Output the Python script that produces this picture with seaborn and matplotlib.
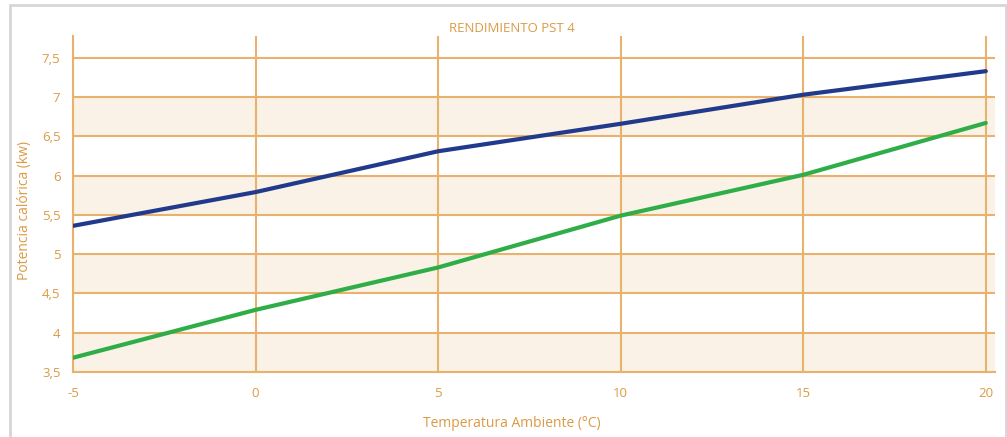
import matplotlib
matplotlib.use("Agg")
import matplotlib.pyplot as plt
from matplotlib.patches import Rectangle
import seaborn as sns
import pandas as pd

# Performance data for the PST 4 unit
temperatura = [-5, 0, 5, 10, 15, 20]
potencia_a = [5.36, 5.79, 6.31, 6.66, 7.03, 7.33]
potencia_b = [3.68, 4.29, 4.83, 5.49, 6.01, 6.67]
x_ticks = [-5, 0, 5, 10, 15, 20]
y_ticks = [3.5, 4, 4.5, 5, 5.5, 6, 6.5, 7, 7.5]
y_tick_labels = ["3,5", "4", "4,5", "5", "5,5", "6", "6,5", "7", "7,5"]

df = pd.DataFrame({
    "temp": temperatura * 2,
    "pot": potencia_a + potencia_b,
    "serie": ["A"] * len(temperatura) + ["B"] * len(temperatura),
})

sns.set_theme(style="white")
plt.rcParams["font.family"] = ["Open Sans", "DejaVu Sans"]

orange = "#E8B26C"
text_col = "#DB9A45"
band_col = "#FAF2E7"

fig = plt.figure(figsize=(10.07, 4.37), dpi=100)
ax = fig.add_axes([0.0725, 0.149, 0.9155, 0.769])

# outer light frame
fig.patches.append(Rectangle((0.010, -0.01), 0.989, 0.998, transform=fig.transFigure,
                             fill=False, edgecolor="#D6D6D6", linewidth=2.0))

# alternating horizontal bands
for lo in [3.5, 4.5, 5.5, 6.5]:
    ax.axhspan(lo, lo + 0.5, color=band_col, zorder=0, linewidth=0)

sns.lineplot(data=df, x="temp", y="pot", hue="serie",
             palette={"A": "#213A8C", "B": "#2FAE48"},
             linewidth=3, legend=False, ax=ax, zorder=3)

ax.set_xlim(-5, 20.25)
ax.set_ylim(3.5, 7.78)
ax.set_xticks(x_ticks)
ax.set_xticklabels(["-5", "0", "5", "10", "15", "20"])
ax.set_yticks(y_ticks)
ax.set_yticklabels(y_tick_labels)

ax.grid(True, color=orange, linewidth=1.5, zorder=1)
ax.set_axisbelow(True)
for s in ax.spines.values():
    s.set_visible(False)
for side in ["left", "bottom"]:
    ax.spines[side].set_visible(True)
    ax.spines[side].set_color(orange)
    ax.spines[side].set_linewidth(1.5)

ax.tick_params(axis="both", colors=orange, length=8, width=1.5,
               labelcolor=text_col, labelsize=9.5, direction="out")
ax.tick_params(axis="x", pad=3)
ax.tick_params(axis="y", pad=1)

ax.set_title("RENDIMIENTO PST 4", color=text_col, fontsize=9.5, x=0.476, pad=3)
ax.set_xlabel("Temperatura Ambiente (°C)", color=text_col, fontsize=10)
ax.set_ylabel("Potencia calórica (kw)", color=text_col, fontsize=10)
ax.xaxis.set_label_coords(0.476, -0.132)
ax.yaxis.set_label_coords(-0.045, 0.479)

fig.savefig("out.png", dpi=100, facecolor="white")
